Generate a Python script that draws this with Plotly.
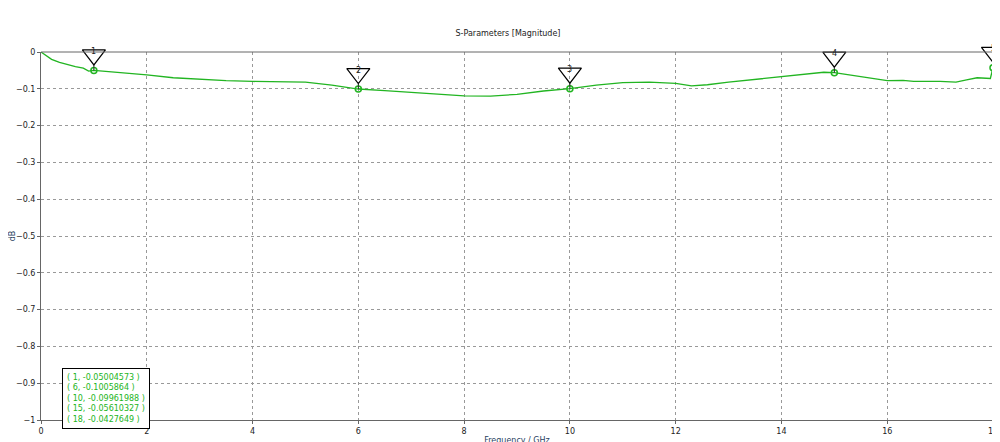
import plotly.graph_objects as go

freq = [0, 0.1, 0.2, 0.35, 0.5, 0.65, 0.8, 0.9, 1.0, 1.2, 1.5, 2.0, 2.5, 3.0, 3.5, 4.0, 4.5, 5.0, 5.5, 6.0, 6.5, 7.0, 7.5, 8.0, 8.5, 9.0, 9.5, 10.0, 10.5, 11.0, 11.5, 12.0, 12.3, 12.6, 13.0, 13.5, 14.0, 14.5, 14.8, 15.0, 15.5, 16.0, 16.3, 16.5, 17.0, 17.3, 17.5, 17.7, 17.95, 18.0]
mag = [0, -0.01, -0.02, -0.028, -0.035, -0.04, -0.044, -0.052, -0.050, -0.052, -0.055, -0.062, -0.070, -0.075, -0.078, -0.080, -0.080, -0.082, -0.090, -0.1006, -0.105, -0.110, -0.116, -0.119, -0.120, -0.115, -0.106, -0.0996, -0.090, -0.083, -0.082, -0.085, -0.092, -0.089, -0.082, -0.075, -0.068, -0.060, -0.055, -0.056, -0.068, -0.078, -0.077, -0.080, -0.080, -0.082, -0.076, -0.070, -0.072, -0.0428]

mk_x = [1, 6, 10, 15, 18]
mk_y = [-0.05004573, -0.1005864, -0.09961988, -0.05610327, -0.0427649]
mk_txt = ["-0.05004573", "-0.1005864", "-0.09961988", "-0.05610327", "-0.0427649"]
mk_lbl = ["1", "2", "3", "4", "5"]

green = "#22b522"
fig = go.Figure()
fig.add_trace(go.Scatter(x=freq, y=mag, mode="lines", line=dict(color=green, width=1.3)))
fig.add_trace(go.Scatter(x=mk_x, y=mk_y, mode="markers", marker=dict(symbol="circle-open", size=6, color=green, line=dict(width=1.5)), cliponaxis=False))
for x, y, t in zip(mk_x, mk_y, mk_lbl):
    fig.add_annotation(x=x, y=y, text="", showarrow=True, arrowhead=0, ax=0, ay=-7, arrowcolor="#222", arrowwidth=1)
    fig.add_annotation(x=x, y=y, text=t, showarrow=False, yshift=19, font=dict(size=8, color="#222"))
fig.add_trace(go.Scatter(x=mk_x, y=[y + 0.042 for y in mk_y], mode="markers",
                         marker=dict(symbol="triangle-down-open", size=20, color="#000", line=dict(width=1.2)), cliponaxis=False))

legend_text = "<br>".join(f"( {x}, {t} )" for x, t in zip(mk_x, mk_txt))
fig.add_annotation(xref="paper", yref="paper", x=0.022, y=0.14, xanchor="left", yanchor="top", align="left",
                   text=legend_text, showarrow=False, font=dict(size=8, color=green),
                   bordercolor="#000", borderwidth=1, bgcolor="white", borderpad=4)

ax = dict(showline=True, linecolor="#666", mirror=False, gridcolor="#999", griddash="dot", zeroline=False,
          ticks="outside", ticklen=3, tickcolor="#666", tickfont=dict(size=8, color="#222"), automargin=False)
fig.update_xaxes(range=[0, 18], dtick=2, title=dict(text="Frequency / GHz", font=dict(size=8), standoff=2), **ax)
fig.update_yaxes(range=[-1, 0], dtick=0.1, title=dict(text="dB", font=dict(size=8), standoff=2), **ax)
fig.add_shape(type="line", xref="paper", yref="paper", x0=0, x1=1, y0=1, y1=1, line=dict(color="#666", width=1))
fig.add_shape(type="line", xref="x", yref="paper", x0=18, x1=18, y0=0, y1=1, line=dict(color="#aaa", width=1.5))
fig.update_layout(width=1000, height=442, showlegend=False, plot_bgcolor="white", paper_bgcolor="white",
                  margin=dict(l=33, r=15, t=44, b=30),
                  title=dict(text="S-Parameters [Magnitude]", x=0.5, y=0.95, font=dict(size=8, color="#222")),
                  font=dict(family="DejaVu Sans"))
fig.write_html("out.html")
